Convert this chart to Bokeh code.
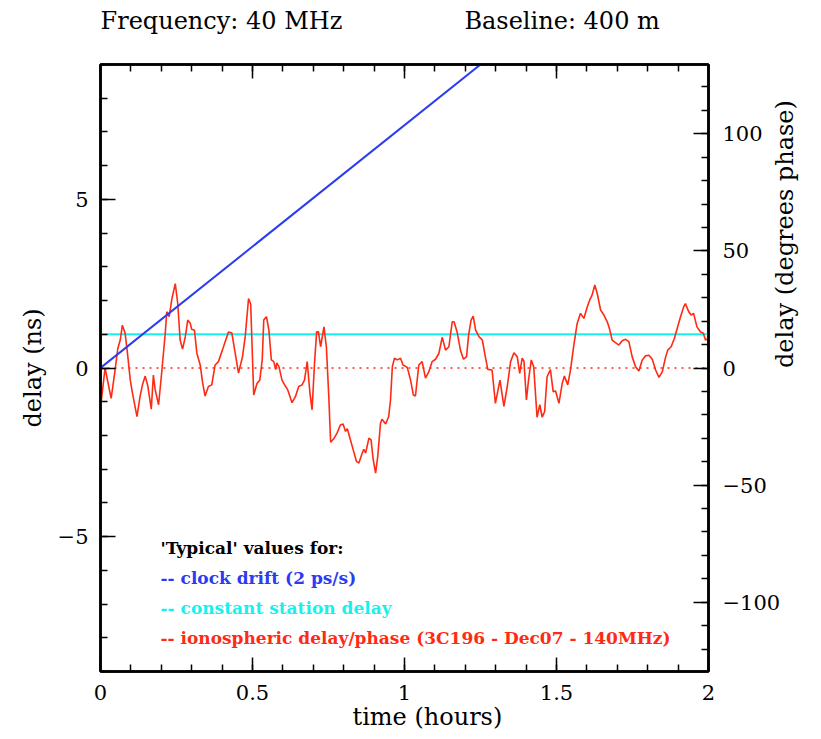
import math
from bokeh.plotting import figure
from bokeh.models import (Range1d, LinearAxis, FixedTicker, CustomJSTickFormatter,
                          Label, Title)
from bokeh.embed import file_html
from bokeh.resources import INLINE

# ---------------- data ----------------
iono_time = [0.000, 0.015, 0.035, 0.048, 0.057, 0.065, 0.072, 0.081, 0.090, 0.098,
             0.105, 0.120, 0.130, 0.138, 0.147, 0.156, 0.167, 0.174, 0.180, 0.191,
             0.200, 0.213, 0.218, 0.226, 0.235, 0.246, 0.254, 0.262, 0.270, 0.279,
             0.287, 0.295, 0.300, 0.309, 0.317, 0.328, 0.336, 0.344, 0.355, 0.366,
             0.377, 0.388, 0.401, 0.410, 0.421, 0.432, 0.443, 0.454, 0.467, 0.476,
             0.487, 0.494, 0.504, 0.515, 0.524, 0.532, 0.537, 0.546, 0.554, 0.562,
             0.570, 0.576, 0.580, 0.587, 0.597, 0.609, 0.616, 0.630, 0.641, 0.652,
             0.663, 0.671, 0.680, 0.689, 0.696, 0.704, 0.711, 0.717, 0.724, 0.735,
             0.743, 0.751, 0.757, 0.767, 0.778, 0.789, 0.798, 0.806, 0.812, 0.822,
             0.833, 0.842, 0.850, 0.861, 0.866, 0.872, 0.883, 0.890, 0.897, 0.905,
             0.912, 0.921, 0.926, 0.938, 0.948, 0.954, 0.960, 0.967, 0.976, 0.987,
             0.995, 1.009, 1.020, 1.029, 1.036, 1.047, 1.058, 1.069, 1.080, 1.091,
             1.102, 1.113, 1.124, 1.135, 1.146, 1.157, 1.163, 1.173, 1.184, 1.194,
             1.204, 1.211, 1.219, 1.226, 1.234, 1.245, 1.256, 1.266, 1.274, 1.288,
             1.299, 1.314, 1.327, 1.338, 1.349, 1.360, 1.371, 1.379, 1.387, 1.393,
             1.401, 1.408, 1.417, 1.425, 1.436, 1.445, 1.453, 1.461, 1.469, 1.480,
             1.489, 1.497, 1.508, 1.519, 1.526, 1.537, 1.546, 1.557, 1.568, 1.579,
             1.590, 1.601, 1.609, 1.617, 1.626, 1.634, 1.645, 1.656, 1.667, 1.675,
             1.683, 1.694, 1.705, 1.716, 1.727, 1.738, 1.749, 1.760, 1.771, 1.782,
             1.793, 1.804, 1.815, 1.826, 1.837, 1.848, 1.859, 1.866, 1.877, 1.888,
             1.897, 1.908, 1.919, 1.924, 1.935, 1.943, 1.951, 1.962, 1.974, 1.983,
             1.990, 2.000]
iono_delay = [-1.18, 0.00, -0.90, -0.06, 0.58, 0.83, 1.27, 1.03, 0.33, -0.36,
              -0.74, -1.44, -0.85, -0.50, -0.24, -0.55, -1.22, -0.21, -0.65, -1.09,
              -0.26, 1.03, 1.67, 1.52, 2.06, 2.50, 1.92, 0.83, 0.56, 0.93,
              1.42, 1.33, 1.15, 1.12, 0.44, 0.09, -0.44, -0.83, -0.55, -0.50,
              0.09, 0.19, 0.53, 0.78, 1.07, 1.04, 0.44, -0.15, 0.33, 0.93,
              2.06, 1.90, -0.80, -0.45, -0.36, 0.24, 1.42, 1.52, 1.12, 0.24,
              0.19, -0.05, 0.15, 0.04, -0.36, -0.55, -0.65, -1.03, -0.85, -0.55,
              -0.50, -0.36, 0.19, -0.75, -1.24, 0.14, 1.07, 1.07, 0.63, 1.22,
              0.63, -0.85, -2.20, -2.10, -1.93, -1.69, -1.66, -1.88, -1.80, -2.13,
              -2.48, -2.77, -2.82, -2.52, -2.41, -2.52, -2.08, -2.13, -2.72, -3.12,
              -2.62, -1.64, -1.52, -1.66, -1.44, -0.95, 0.04, 0.29, 0.24, 0.29,
              0.09, 0.02, -0.36, -0.80, -0.83, 0.09, 0.19, -0.30, -0.11, 0.19,
              0.26, 0.43, 0.91, 0.53, 0.63, 1.37, 1.37, 1.07, 0.53, 0.26,
              0.33, 0.98, 1.42, 1.54, 1.12, 0.93, 0.83, 0.33, -0.04, -0.06,
              -1.05, -0.36, -1.14, -0.55, 0.19, 0.45, 0.33, -0.16, 0.29, 0.20,
              -0.95, -0.36, 0.24, 0.04, -1.46, -1.09, -1.46, -1.29, -0.26, -0.05,
              -0.70, -0.68, -1.05, -0.45, -0.24, -0.50, -0.06, 0.68, 1.32, 1.62,
              1.47, 1.81, 2.01, 2.16, 2.46, 2.21, 1.72, 1.57, 1.37, 1.14,
              0.83, 0.75, 0.68, 0.81, 0.85, 0.78, 0.33, 0.04, -0.09, 0.24,
              0.36, 0.38, 0.26, -0.06, -0.28, -0.11, 0.33, 0.53, 0.63, 0.88,
              1.17, 1.52, 1.83, 1.91, 1.67, 1.57, 1.62, 1.22, 1.07, 1.03,
              0.83, 0.88]

clock_time = [0.0, 2.0]
clock_delay = [0.0, 14.4]          # 2 ps/s drift -> 7.2 ns per hour
station_time = [0.0, 2.0]
station_delay = [1.0, 1.0]
zero_time = [0.0, 2.0]
zero_delay = [0.0, 0.0]

x_major = [0, 0.5, 1, 1.5, 2]
y_major = [-5, 0, 5]
deg_major = [-100, -50, 0, 50, 100]

title_left = "Frequency: 40 MHz"
title_right = "Baseline: 400 m"
x_label = "time (hours)"
y_label = "delay (ns)"
y2_label = "delay (degrees phase)"
legend_lines = ["'Typical' values for:",
                "-- clock drift  (2 ps/s)",
                "-- constant station delay",
                "-- ionospheric delay/phase (3C196 - Dec07 - 140MHz)"]

NS_TO_DEG = 14.4   # 40 MHz: 1 ns = 14.4 degrees

# ---------------- layout ----------------
W, H = 821, 739
FL, FR, FT, FB = 100, 708, 64, 671
XMIN, XMAX, YMIN, YMAX = 0.0, 2.0, -9.0, 9.0
NBSP = "\u00a0"

def px2x(px):
    return XMIN + (px - FL) / (FR - FL) * (XMAX - XMIN)

def py2y(py):
    return YMAX - (py - FT) / (FB - FT) * (YMAX - YMIN)

FONT = "DejaVu Serif"
BLUE = "#2b3cf0"
CYAN = "#18f0f0"
RED = "#ff2a14"

p = figure(width=W, height=H, output_backend="svg", toolbar_location=None,
           x_range=Range1d(XMIN, XMAX), y_range=Range1d(YMIN, YMAX),
           min_border_left=FL, min_border_right=W - FR,
           min_border_top=FT, min_border_bottom=H - FB,
           x_axis_location=None, y_axis_location=None)
p.grid.visible = False
p.outline_line_color = "black"
p.outline_line_width = 2.5
p.background_fill_color = "white"
p.border_fill_color = "white"

p.extra_y_ranges = {"deg": Range1d(YMIN * NS_TO_DEG, YMAX * NS_TO_DEG)}

fmt = CustomJSTickFormatter(code="""
    const v = Number(tick.toFixed(6));
    return v < 0 ? "\\u2212" + String(Math.abs(v)) : String(v);
""")
blank_fmt = CustomJSTickFormatter(code="return '';")

def style_axis(ax, major_len, minor_len, show_labels=True):
    ax.major_tick_in = major_len
    ax.major_tick_out = 0
    ax.minor_tick_in = minor_len
    ax.minor_tick_out = 0
    ax.axis_line_width = 2.5
    ax.axis_line_color = "black"
    ax.major_tick_line_width = 1.5
    ax.minor_tick_line_width = 1.5
    ax.major_tick_line_color = "black"
    ax.minor_tick_line_color = "black"
    ax.major_label_text_font = FONT
    ax.major_label_text_font_size = "21px"
    ax.major_label_text_color = "black"
    ax.major_label_standoff = 12 if show_labels else 0
    ax.formatter = fmt if show_labels else blank_fmt
    ax.axis_label_text_font = FONT
    ax.axis_label_text_font_size = "24px"
    ax.axis_label_text_font_style = "normal"
    ax.axis_label_text_color = "black"

x_minor = [i / 10 for i in range(0, 21)]
y_minor = list(range(-9, 10))
deg_minor = list(range(-120, 130, 10))

xb = LinearAxis(ticker=FixedTicker(ticks=x_major, minor_ticks=x_minor))
style_axis(xb, 14, 7)
xb.major_label_standoff = 13
xb.axis_label = NBSP * 6 + x_label
xb.axis_label_standoff = 0
p.add_layout(xb, "below")

# top axis: ticks only; a blank label keeps the heading clear of the frame
xt = LinearAxis(ticker=FixedTicker(ticks=x_major, minor_ticks=x_minor))
style_axis(xt, 14, 7, show_labels=False)
xt.axis_label = NBSP
xt.axis_label_text_font_size = "10px"
xt.axis_label_standoff = 16
p.add_layout(xt, "above")

yl = LinearAxis(ticker=FixedTicker(ticks=y_major, minor_ticks=y_minor))
style_axis(yl, 15, 7)
yl.axis_label = y_label
yl.axis_label_standoff = 8
p.add_layout(yl, "left")

yr = LinearAxis(y_range_name="deg",
                ticker=FixedTicker(ticks=deg_major, minor_ticks=deg_minor))
style_axis(yr, 15, 7)
yr.major_label_standoff = 14
yr.axis_label = y2_label
yr.axis_label_standoff = 2
try:
    yr.axis_label_orientation = math.pi / 2
except Exception:
    pass
p.add_layout(yr, "right")

# ---------------- title ----------------
p.add_layout(Title(text=title_left + NBSP * 16 + title_right, align="left",
                   text_font=FONT, text_font_size="24px", text_font_style="normal",
                   text_color="black", offset=0, standoff=0), "above")

# ---------------- glyphs ----------------
p.line(zero_time, zero_delay, line_color=RED, line_width=1.5, line_dash="2 5")
p.line(station_time, station_delay, line_color=CYAN, line_width=2)
p.line(iono_time, iono_delay, line_color=RED, line_width=1.6)
p.line(clock_time, clock_delay, line_color=BLUE, line_width=2)

# ---------------- legend texts ----------------
legend_colors = ["black", BLUE, CYAN, RED]
legend_py = [547, 577, 607, 637]
for txt, col, ly in zip(legend_lines, legend_colors, legend_py):
    p.add_layout(Label(x=px2x(160), y=py2y(ly), text=txt, text_font=FONT,
                       text_font_size="17px", text_color=col, text_align="left",
                       text_baseline="middle", text_font_style="bold"))

open("out.html", "w").write(file_html(p, INLINE))
